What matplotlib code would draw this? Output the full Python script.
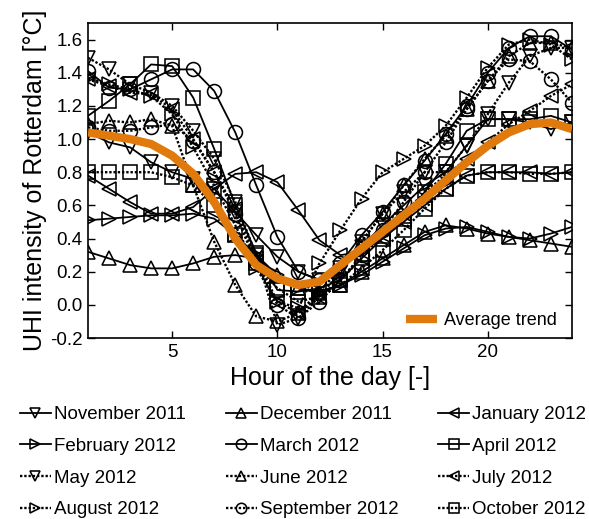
import matplotlib
matplotlib.use("Agg")
import matplotlib.pyplot as plt

plt.rcParams['font.family'] = ['Liberation Sans', 'DejaVu Sans']

hours = list(range(1, 25))

series_names = ["November 2011", "December 2011", "January 2012", "February 2012",
                "March 2012", "April 2012", "May 2012", "June 2012", "July 2012",
                "August 2012", "September 2012", "October 2012"]

nov_2011 = [1.04, 0.98, 0.95, 0.86, 0.80, 0.76, 0.70, 0.56, 0.42, 0.29, 0.20, 0.15,
            0.22, 0.35, 0.48, 0.60, 0.72, 0.80, 0.96, 1.12, 1.12, 1.10, 1.06, 1.10]
dec_2011 = [0.32, 0.28, 0.24, 0.22, 0.22, 0.25, 0.29, 0.30, 0.28, 0.18, 0.10, 0.07,
            0.12, 0.20, 0.28, 0.36, 0.44, 0.48, 0.46, 0.43, 0.41, 0.39, 0.37, 0.35]
jan_2012 = [0.78, 0.70, 0.62, 0.55, 0.55, 0.59, 0.70, 0.79, 0.80, 0.74, 0.57, 0.39,
            0.30, 0.32, 0.40, 0.50, 0.60, 0.70, 0.78, 0.80, 0.80, 0.80, 0.79, 0.80]
feb_2012 = [0.51, 0.52, 0.53, 0.54, 0.54, 0.55, 0.52, 0.42, 0.30, 0.18, 0.10, 0.08,
            0.12, 0.18, 0.26, 0.34, 0.42, 0.46, 0.47, 0.44, 0.41, 0.40, 0.43, 0.47]
mar_2012 = [1.41, 1.31, 1.30, 1.36, 1.42, 1.42, 1.29, 1.04, 0.72, 0.41, 0.20, 0.15,
            0.25, 0.42, 0.56, 0.72, 0.87, 1.03, 1.20, 1.40, 1.55, 1.62, 1.62, 1.54]
apr_2012 = [1.14, 1.23, 1.33, 1.45, 1.44, 1.25, 0.94, 0.60, 0.31, 0.09, 0.08, 0.10,
            0.15, 0.28, 0.40, 0.52, 0.68, 0.85, 1.05, 1.12, 1.12, 1.12, 1.14, 1.10]
may_2012 = [1.49, 1.42, 1.33, 1.28, 1.20, 1.05, 0.88, 0.62, 0.30, -0.12, -0.08, 0.05,
            0.20, 0.38, 0.55, 0.68, 0.80, 0.80, 0.96, 1.15, 1.34, 1.50, 1.55, 1.55]
jun_2012 = [1.09, 1.11, 1.10, 1.12, 1.08, 0.72, 0.38, 0.12, -0.07, -0.10, -0.05, 0.08,
            0.22, 0.38, 0.55, 0.72, 0.88, 1.02, 1.18, 1.35, 1.50, 1.58, 1.58, 1.55]
jul_2012 = [1.36, 1.32, 1.28, 1.27, 1.18, 1.00, 0.80, 0.58, 0.28, 0.02, -0.05, 0.05,
            0.15, 0.28, 0.42, 0.55, 0.68, 0.78, 0.88, 0.98, 1.09, 1.17, 1.26, 1.33]
aug_2012 = [1.37, 1.33, 1.30, 1.26, 1.15, 0.95, 0.72, 0.48, 0.22, 0.02, -0.02, 0.25,
            0.45, 0.64, 0.80, 0.88, 0.96, 1.08, 1.25, 1.43, 1.57, 1.60, 1.57, 1.48]
sep_2012 = [1.07, 1.05, 1.05, 1.07, 1.09, 0.99, 0.80, 0.55, 0.25, 0.00, -0.08, 0.02,
            0.15, 0.30, 0.45, 0.62, 0.80, 0.98, 1.18, 1.35, 1.48, 1.47, 1.36, 1.22]
oct_2012 = [0.80, 0.80, 0.80, 0.80, 0.77, 0.72, 0.60, 0.42, 0.25, 0.10, 0.02, 0.05,
            0.12, 0.22, 0.33, 0.45, 0.58, 0.70, 0.78, 0.80, 0.80, 0.79, 0.79, 0.80]

average_trend = [1.04, 1.02, 1.00, 0.97, 0.90, 0.79, 0.62, 0.40, 0.24, 0.16, 0.12, 0.14,
                 0.24, 0.34, 0.44, 0.54, 0.64, 0.75, 0.86, 0.96, 1.04, 1.09, 1.10, 1.06]

all_series = [nov_2011, dec_2011, jan_2012, feb_2012, mar_2012, apr_2012,
              may_2012, jun_2012, jul_2012, aug_2012, sep_2012, oct_2012]
markers = ['v', '^', '<', '>', 'o', 's'] * 2
solid = [True] * 6 + [False] * 6

fig = plt.figure(figsize=(5.89, 5.19), dpi=100)
ax = fig.add_axes([0.1494, 0.3487, 0.8216, 0.607])

handles = []
for vals, m, is_solid, name in zip(all_series, markers, solid, series_names):
    if is_solid:
        ls, lw = '-', 1.3
    else:
        ls, lw = (0, (1, 0.8)), 1.7
    h, = ax.plot(hours, vals, linestyle=ls, color='black', linewidth=lw,
                 marker=m, markersize=10, markerfacecolor='none',
                 markeredgecolor='black', markeredgewidth=1.15, label=name, zorder=2)
    handles.append(h)

avg, = ax.plot(hours, average_trend, color='#E07A0C', linewidth=6,
               solid_capstyle='butt', label='Average trend', zorder=3)

ax.set_xlim(1, 24)
ax.set_ylim(-0.2, 1.7)
ax.set_xticks([5, 10, 15, 20])
ax.set_yticks([-0.2, 0.0, 0.2, 0.4, 0.6, 0.8, 1.0, 1.2, 1.4, 1.6])
ax.set_yticklabels(['-0.2', '0.0', '0.2', '0.4', '0.6', '0.8', '1.0', '1.2', '1.4', '1.6'])
ax.tick_params(direction='in', top=True, right=True, labelsize=13.5, length=5, width=1,
               pad=4)
for s in ax.spines.values():
    s.set_linewidth(1.2)
ax.set_xlabel('Hour of the day [-]', fontsize=18, labelpad=4)
ax.set_ylabel('UHI intensity of Rotterdam [\u00b0C]', fontsize=18, labelpad=2)

ax.legend(handles=[avg], loc='lower right', frameon=False, fontsize=13,
          handlelength=1.7, handletextpad=0.4, borderaxespad=0.1,
          bbox_to_anchor=(0.988, 0.0))

# reorder so rows read Nov, Dec, Jan / Feb, Mar, Apr / ...
order = [0, 3, 6, 9, 1, 4, 7, 10, 2, 5, 8, 11]
leg_handles = [handles[i] for i in order]
fig.legend(handles=leg_handles, loc='upper left', bbox_to_anchor=(0.005, 0.25),
           ncol=3, frameon=False, fontsize=13.5, handlelength=1.65,
           handletextpad=0.15, columnspacing=2.15, labelspacing=0.78,
           markerscale=0.75)

fig.savefig('out.png', dpi=100)
